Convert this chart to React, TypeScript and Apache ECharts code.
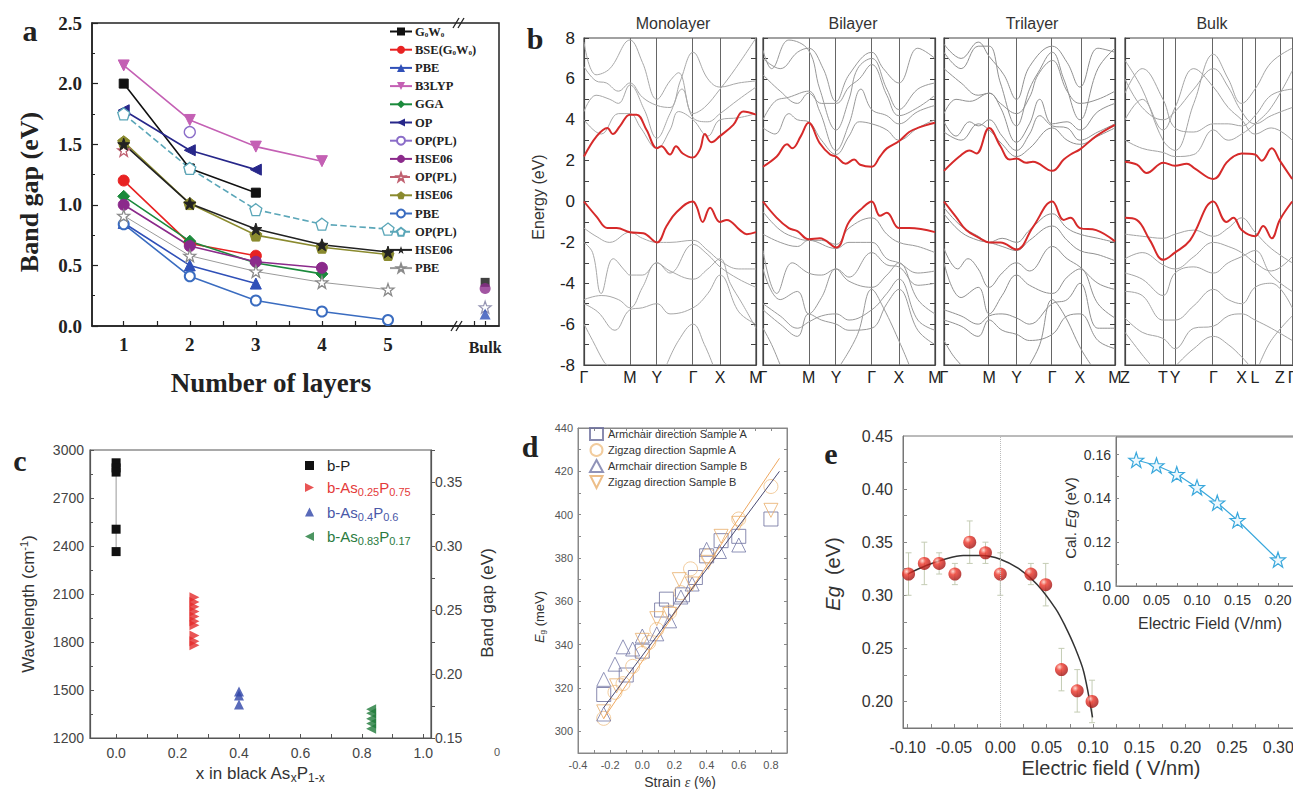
import React, { useEffect, useRef } from 'react';
import * as echarts from 'echarts';

const FS = '"Liberation Serif", "Times New Roman", serif';
const SS = '"Liberation Sans", Arial, Helvetica, sans-serif';
const STAR = 'path://M0,-10L2.35,-3.24L9.51,-3.09L3.8,1.24L5.88,8.09L0,4L-5.88,8.09L-3.8,1.24L-9.51,-3.09L-2.35,-3.24Z';
const PENT = 'path://M0,-10L9.51,-3.09L5.88,8.09L-5.88,8.09L-9.51,-3.09Z';
const TRI_R = 'path://M0,0L10,5L0,10Z';
const TRI_L = 'path://M10,0L0,5L10,10Z';
const TRI_D = 'path://M0,0L10,0L5,10Z';

// ---------- Panel a ----------
const aNames = ['G0W0', 'BSE(G0W0)', 'PBE', 'B3LYP', 'GGA', 'OP', 'OP(PL)', 'HSE06', 'OP(PL) ', 'HSE06 ', 'PBE ', 'OP(PL)  ', 'HSE06  ', 'PBE  '];
const aG0W0 = [[1, 2.0], [2, 1.3], [3, 1.1]];
const aBSE = [[1, 1.2], [2, 0.68], [3, 0.58]];
const aPBE1 = [[1, 0.85], [2, 0.5], [3, 0.35]];
const aB3LYP = [[1, 2.15], [2, 1.7], [3, 1.48], [4, 1.36]];
const aGGA = [[1, 1.07], [2, 0.7], [3, 0.52], [4, 0.43]];
const aOP = [[1, 1.78], [2, 1.45], [3, 1.29]];
const aOPPL1 = [[2, 1.6]];
const aHSE1 = [[1, 1.0], [2, 0.66], [3, 0.53], [4, 0.48]];
const aOPPL2 = [[1, 1.45]];
const aHSE2 = [[1, 1.52], [2, 1.01], [3, 0.75], [4, 0.65], [5, 0.59]];
const aPBE2 = [[1, 0.84], [2, 0.41], [3, 0.21], [4, 0.12], [5, 0.05]];
const aOPPL3 = [[1, 1.75], [2, 1.3], [3, 0.96], [4, 0.84], [5, 0.8]];
const aHSE3 = [[1, 1.5], [2, 1.01], [3, 0.8], [4, 0.67], [5, 0.61]];
const aPBE3 = [[1, 0.91], [2, 0.58], [3, 0.45], [4, 0.36], [5, 0.3]];
const aBulkX = 6.47;
const aBulkG0W0 = [[aBulkX, 0.36]];
const aBulkHSE = [[aBulkX, 0.31]];
const aBulkPBEstar = [[aBulkX, 0.155]];
const aBulkPBEtri = [[aBulkX, 0.1]];
const aTickVals = [1, 1.5, 2, 2.5, 3, 3.5, 4, 4.5, 5, 5.5, 6.3, 6.47];
const aLabelVals = [1, 2, 3, 4, 5, aBulkX];

// ---------- Panel b ----------
const bTitles = ['Monolayer', 'Bilayer', 'Trilayer', 'Bulk'];
const kPos = [
  [0, 0.267, 0.424, 0.634, 0.791, 1],
  [0, 0.265, 0.425, 0.632, 0.79, 1],
  [0, 0.264, 0.424, 0.633, 0.795, 1],
  [0, 0.221, 0.291, 0.514, 0.678, 0.756, 0.901, 0.972],
];
const kLab = [
  ['Γ', 'M', 'Y', 'Γ', 'X', 'M'],
  ['Γ', 'M', 'Y', 'Γ', 'X', 'M'],
  ['Γ', 'M', 'Y', 'Γ', 'X', 'M'],
  ['Z', 'T', 'Y', 'Γ', 'X', 'L', 'Z', 'Γ'],
];
const monoCB = [[0, 2.2], [0.074, 3.2], [0.136, 3.6], [0.167, 3.3], [0.21, 3.7], [0.267, 4.25], [0.306, 4.25], [0.364, 3.5], [0.424, 2.6], [0.45, 2.7], [0.5, 2.3], [0.535, 2.7], [0.574, 2.35], [0.632, 2.15], [0.674, 2.55], [0.703, 3.3], [0.74, 2.9], [0.79, 3.2], [0.868, 3.75], [0.926, 4.4], [1, 4.25]];
const monoVB = [[0, 0], [0.074, -0.75], [0.136, -1.3], [0.19, -1.3], [0.267, -1.5], [0.345, -1.55], [0.424, -2.0], [0.48, -1.2], [0.535, -0.55], [0.632, 0], [0.655, -0.25], [0.69, -1.0], [0.733, -0.3], [0.79, -1.0], [0.83, -0.9], [0.907, -1.4], [0.946, -1.6], [1, -1.5]];
const monoGray = [
  [[0, 7.8], [0.07, 6.2], [0.15, 6.5], [0.267, 7.9], [0.34, 6.8], [0.424, 5.0], [0.5, 5.9], [0.55, 6.3], [0.634, 4.3], [0.7, 4.6], [0.791, 5.5], [0.88, 6.5], [1, 8.0]],
  [[0, 6.6], [0.07, 5.9], [0.13, 5.8], [0.2, 5.4], [0.267, 5.8], [0.34, 5.1], [0.424, 4.7], [0.5, 4.6], [0.56, 5.9], [0.634, 7.3], [0.72, 6.0], [0.791, 5.6], [0.9, 5.8], [1, 5.9]],
  [[0, 4.4], [0.07, 5.2], [0.15, 5.0], [0.2, 4.8], [0.267, 5.7], [0.35, 4.5], [0.424, 3.1], [0.5, 4.3], [0.57, 5.5], [0.634, 4.1], [0.72, 3.9], [0.791, 4.3], [0.9, 5.0], [1, 5.6]],
  [[0, 4.0], [0.1, 3.3], [0.2, 4.3], [0.267, 4.3], [0.33, 3.6], [0.424, 2.6], [0.5, 3.5], [0.55, 4.4], [0.634, 4.0], [0.72, 3.2], [0.791, 4.0], [0.9, 4.1], [1, 4.3]],
  [[0, -1.3], [0.07, -1.7], [0.15, -2.0], [0.267, -1.5], [0.34, -1.8], [0.424, -2.0], [0.5, -2.0], [0.634, -1.9], [0.72, -2.4], [0.791, -2.9], [0.9, -3.3], [1, -3.3]],
  [[0, -2.0], [0.05, -2.5], [0.1, -4.5], [0.17, -2.8], [0.24, -3.4], [0.267, -3.6], [0.34, -3.6], [0.424, -3.0], [0.5, -3.5], [0.634, -2.1], [0.72, -2.6], [0.791, -3.2], [0.9, -3.8], [1, -4.2]],
  [[0, -4.8], [0.1, -4.6], [0.2, -4.8], [0.267, -5.2], [0.34, -4.2], [0.424, -3.0], [0.5, -3.4], [0.634, -3.8], [0.72, -3.3], [0.791, -2.8], [0.85, -4.0], [0.92, -5.0], [1, -6.2]],
  [[0, -5.0], [0.08, -5.4], [0.18, -6.3], [0.267, -5.3], [0.34, -5.2], [0.424, -5.0], [0.5, -5.5], [0.634, -5.2], [0.72, -4.5], [0.791, -3.6], [0.9, -5.4], [1, -6.0]],
  [[0, -6.0], [0.05, -6.8], [0.12, -7.9], [0.14, -8.0]],
  [[0.48, -8.0], [0.55, -6.8], [0.634, -6.0], [0.7, -7.0], [0.75, -8.0]],
];
const biCB = [[0, 1.7], [0.08, 2.2], [0.14, 2.8], [0.17, 2.6], [0.22, 3.2], [0.265, 3.85], [0.33, 2.85], [0.39, 2.3], [0.425, 2.2], [0.48, 1.85], [0.53, 2.05], [0.565, 1.8], [0.632, 1.7], [0.68, 2.2], [0.72, 2.6], [0.79, 2.95], [0.85, 3.4], [0.9, 3.6], [1, 3.85]];
const biVB = [[0, 0], [0.08, -0.8], [0.15, -1.3], [0.2, -1.45], [0.265, -1.85], [0.33, -1.8], [0.425, -2.25], [0.5, -1.0], [0.58, -0.3], [0.632, 0], [0.68, -0.7], [0.72, -0.55], [0.79, -1.3], [0.85, -1.3], [1, -1.5]];
const biGray = [
  [[0, 7.4], [0.05, 6.5], [0.15, 7.9], [0.265, 7.4], [0.33, 5.5], [0.425, 3.5], [0.5, 5.0], [0.55, 6.5], [0.632, 7.0], [0.72, 5.5], [0.79, 4.5], [0.9, 5.5], [1, 5.8]],
  [[0, 6.2], [0.1, 5.4], [0.2, 4.8], [0.265, 5.3], [0.34, 4.8], [0.425, 4.8], [0.5, 5.6], [0.56, 6.0], [0.632, 6.7], [0.72, 5.2], [0.79, 4.2], [0.9, 4.6], [1, 5.2]],
  [[0, 4.0], [0.07, 4.9], [0.15, 5.1], [0.265, 5.4], [0.33, 4.4], [0.425, 2.5], [0.5, 3.8], [0.57, 5.5], [0.632, 4.5], [0.72, 4.2], [0.79, 3.8], [0.9, 4.4], [1, 4.7]],
  [[0, 3.6], [0.07, 3.3], [0.15, 4.3], [0.2, 4.0], [0.265, 3.9], [0.34, 3.0], [0.425, 2.3], [0.5, 3.2], [0.56, 3.9], [0.632, 3.8], [0.72, 3.5], [0.79, 3.0], [0.9, 3.6], [1, 4.0]],
  [[0, 7.0], [0.1, 6.5], [0.2, 7.3], [0.265, 7.5], [0.35, 6.5], [0.425, 4.9], [0.5, 6.2], [0.632, 7.3], [0.7, 6.5], [0.79, 5.8], [0.9, 7.5], [1, 7.0]],
  [[0, -0.5], [0.1, -1.4], [0.2, -1.8], [0.265, -1.9], [0.34, -1.9], [0.425, -2.1], [0.5, -1.3], [0.632, -0.8], [0.72, -1.6], [0.79, -2.0], [0.9, -2.2], [1, -2.5]],
  [[0, -1.6], [0.1, -2.0], [0.2, -2.2], [0.265, -1.9], [0.425, -2.3], [0.5, -2.0], [0.632, -2.0], [0.72, -2.8], [0.79, -3.0], [0.9, -3.5], [1, -3.4]],
  [[0, -2.4], [0.08, -4.5], [0.17, -3.0], [0.265, -3.5], [0.34, -3.6], [0.425, -3.3], [0.5, -3.7], [0.632, -2.5], [0.72, -3.1], [0.79, -3.2], [0.9, -4.1], [1, -4.0]],
  [[0, -3.3], [0.1, -4.8], [0.2, -4.4], [0.265, -5.5], [0.34, -4.7], [0.425, -3.3], [0.5, -3.9], [0.632, -4.2], [0.72, -3.6], [0.79, -3.0], [0.9, -4.8], [1, -5.5]],
  [[0, -5.0], [0.1, -5.6], [0.2, -6.2], [0.265, -5.9], [0.34, -5.6], [0.425, -5.5], [0.5, -5.8], [0.632, -5.3], [0.72, -4.5], [0.79, -3.8], [0.9, -5.8], [1, -6.3]],
  [[0, -5.3], [0.1, -6.0], [0.2, -6.6], [0.265, -5.5], [0.34, -5.8], [0.425, -6.0], [0.5, -6.3], [0.632, -6.2], [0.72, -5.0], [0.79, -4.3], [0.9, -6.3], [1, -7.0]],
  [[0, -6.2], [0.05, -7.0], [0.1, -8.0]],
  [[0.45, -8.0], [0.55, -6.5], [0.632, -4.3], [0.7, -5.2], [0.8, -7.0], [0.85, -8.0]],
];
const triCB = [[0, 1.5], [0.09, 2.2], [0.15, 2.5], [0.19, 2.35], [0.264, 3.6], [0.33, 2.7], [0.385, 2.05], [0.424, 2.1], [0.48, 1.9], [0.52, 1.95], [0.633, 1.5], [0.7, 2.05], [0.74, 2.3], [0.795, 2.55], [0.89, 3.2], [1, 3.75]];
const triVB = [[0, 0], [0.07, -0.75], [0.13, -1.4], [0.21, -1.8], [0.264, -2.0], [0.33, -2.0], [0.424, -2.35], [0.52, -1.25], [0.633, 0], [0.7, -0.9], [0.74, -0.8], [0.795, -1.3], [0.89, -1.4], [1, -1.95]];
const triGray = [
  [[0, 7.3], [0.1, 6.5], [0.2, 7.6], [0.264, 7.6], [0.33, 5.8], [0.424, 3.7], [0.5, 5.5], [0.55, 6.3], [0.633, 7.3], [0.7, 6.0], [0.795, 4.0], [0.9, 6.5], [1, 7.5]],
  [[0, 6.5], [0.1, 5.8], [0.2, 5.2], [0.264, 5.3], [0.33, 4.8], [0.424, 4.3], [0.5, 5.1], [0.55, 6.2], [0.633, 6.9], [0.72, 5.4], [0.795, 4.8], [0.9, 5.0], [1, 5.4]],
  [[0, 4.3], [0.07, 5.0], [0.15, 4.9], [0.264, 5.3], [0.33, 4.6], [0.424, 2.9], [0.5, 3.8], [0.56, 5.0], [0.633, 3.8], [0.72, 3.9], [0.795, 3.5], [0.9, 4.4], [1, 4.8]],
  [[0, 3.9], [0.07, 3.2], [0.15, 3.9], [0.2, 3.7], [0.264, 4.0], [0.34, 3.2], [0.424, 2.5], [0.5, 3.3], [0.56, 4.2], [0.633, 3.7], [0.72, 3.6], [0.795, 3.0], [0.9, 3.4], [1, 3.8]],
  [[0, 7.7], [0.1, 7.0], [0.2, 7.8], [0.264, 7.1], [0.35, 6.2], [0.424, 5.0], [0.5, 6.6], [0.633, 7.6], [0.72, 6.8], [0.795, 5.6], [0.9, 7.5], [1, 7.3]],
  [[0, 3.4], [0.1, 3.0], [0.2, 3.8], [0.264, 3.5], [0.34, 2.8], [0.424, 2.2], [0.5, 2.6], [0.633, 3.6], [0.72, 3.0], [0.795, 2.8], [0.9, 3.2], [1, 3.6]],
  [[0, -0.3], [0.1, -1.2], [0.2, -1.7], [0.264, -2.0], [0.34, -1.8], [0.424, -2.0], [0.5, -1.4], [0.633, -0.6], [0.72, -1.3], [0.795, -1.6], [0.9, -1.8], [1, -2.0]],
  [[0, -0.6], [0.1, -1.5], [0.2, -1.9], [0.264, -2.0], [0.34, -2.2], [0.424, -2.4], [0.5, -1.9], [0.633, -1.2], [0.72, -1.9], [0.795, -2.4], [0.9, -2.6], [1, -2.9]],
  [[0, -2.3], [0.08, -3.3], [0.14, -2.8], [0.2, -3.3], [0.264, -4.2], [0.34, -3.5], [0.424, -3.0], [0.5, -3.4], [0.633, -2.2], [0.72, -2.8], [0.795, -3.2], [0.9, -4.0], [1, -4.3]],
  [[0, -3.0], [0.1, -4.7], [0.2, -4.2], [0.264, -5.5], [0.34, -4.6], [0.424, -3.6], [0.5, -4.1], [0.633, -4.5], [0.72, -3.7], [0.795, -3.3], [0.9, -5.0], [1, -5.7]],
  [[0, -5.3], [0.1, -5.6], [0.2, -6.0], [0.264, -5.6], [0.34, -5.5], [0.424, -5.7], [0.5, -6.0], [0.633, -5.0], [0.72, -4.8], [0.795, -4.0], [0.9, -6.2], [1, -6.2]],
  [[0, -5.8], [0.1, -6.1], [0.2, -6.6], [0.264, -5.8], [0.34, -6.3], [0.424, -6.5], [0.5, -6.8], [0.633, -6.5], [0.72, -5.6], [0.795, -5.5], [0.9, -6.8], [1, -7.2]],
  [[0, -6.8], [0.05, -7.5], [0.1, -8.0]],
  [[0.5, -8.0], [0.56, -7.0], [0.633, -4.8], [0.7, -5.5], [0.8, -7.2], [0.86, -8.0]],
];
const bulkCB = [[0, 1.95], [0.07, 1.8], [0.126, 1.4], [0.223, 1.9], [0.29, 1.75], [0.36, 1.85], [0.4, 1.65], [0.514, 1.1], [0.59, 1.9], [0.63, 2.2], [0.678, 2.35], [0.756, 2.3], [0.795, 2.0], [0.853, 2.6], [0.9, 2.0], [0.972, 1.1]];
const bulkVB = [[0, -0.8], [0.068, -0.9], [0.145, -1.9], [0.223, -2.85], [0.29, -2.5], [0.378, -1.9], [0.514, 0], [0.59, -1.0], [0.63, -0.8], [0.678, -1.4], [0.756, -1.7], [0.804, -1.2], [0.853, -1.8], [0.9, -0.9], [0.972, 0]];
const bulkGray = [
  [[0, 6.9], [0.1, 5.5], [0.221, 3.0], [0.291, 2.5], [0.4, 4.8], [0.514, 7.2], [0.6, 6.0], [0.678, 4.8], [0.756, 5.5], [0.85, 6.8], [0.972, 7.5]],
  [[0, 6.0], [0.1, 4.6], [0.221, 4.0], [0.291, 4.4], [0.4, 5.5], [0.514, 6.5], [0.6, 5.6], [0.678, 4.4], [0.756, 3.8], [0.85, 4.2], [0.972, 4.6]],
  [[0, 5.3], [0.1, 6.5], [0.221, 5.0], [0.291, 3.6], [0.4, 3.4], [0.514, 3.8], [0.6, 3.8], [0.678, 3.7], [0.756, 4.2], [0.85, 5.2], [0.972, 5.5]],
  [[0, 4.0], [0.1, 5.0], [0.221, 3.5], [0.291, 4.6], [0.4, 6.5], [0.514, 5.6], [0.6, 4.6], [0.678, 4.0], [0.756, 3.3], [0.85, 3.6], [0.972, 3.0]],
  [[0, 3.0], [0.1, 2.6], [0.221, 2.4], [0.291, 2.2], [0.4, 2.3], [0.514, 3.5], [0.6, 3.0], [0.678, 3.3], [0.756, 3.8], [0.85, 4.6], [0.972, 6.4]],
  [[0, -1.6], [0.1, -1.7], [0.221, -1.8], [0.291, -1.6], [0.4, -1.4], [0.514, -1.7], [0.6, -1.3], [0.678, -0.8], [0.756, -1.5], [0.85, -2.3], [0.972, -3.0]],
  [[0, -2.8], [0.1, -2.5], [0.221, -3.1], [0.291, -3.3], [0.4, -2.7], [0.514, -2.0], [0.6, -2.2], [0.678, -2.5], [0.756, -3.0], [0.85, -3.4], [0.972, -2.7]],
  [[0, -3.5], [0.1, -3.8], [0.221, -4.6], [0.291, -3.5], [0.4, -3.2], [0.514, -3.5], [0.6, -3.0], [0.678, -2.7], [0.756, -2.4], [0.85, -3.6], [0.972, -4.4]],
  [[0, -4.4], [0.1, -4.6], [0.221, -5.8], [0.291, -5.8], [0.4, -5.1], [0.514, -4.3], [0.6, -4.8], [0.678, -5.0], [0.756, -4.2], [0.85, -4.0], [0.972, -5.2]],
  [[0, -5.7], [0.1, -6.4], [0.221, -6.7], [0.291, -7.2], [0.4, -6.2], [0.514, -6.1], [0.6, -5.6], [0.678, -5.5], [0.756, -5.8], [0.85, -6.2], [0.972, -6.8]],
  [[0, -6.4], [0.1, -7.5], [0.15, -8.0]],
  [[0.3, -8.0], [0.4, -7.2], [0.514, -6.6], [0.6, -7.0], [0.678, -7.6], [0.72, -8.0]],
  [[0.78, -8.0], [0.85, -6.8], [0.972, -5.6]],
];

// ---------- Panel c ----------
const cBP = [[0, 2920], [0, 2888], [0, 2862], [0, 2505], [0, 2365]];
const cAs25 = [[0.255, 2080], [0.255, 2050], [0.255, 2020], [0.255, 1990], [0.255, 1960], [0.255, 1930], [0.255, 1905], [0.255, 1840], [0.255, 1805], [0.255, 1780]];
const cAs40 = [[0.4, 1490], [0.4, 1465], [0.4, 1410]];
const cAs83 = [[0.83, 1380], [0.83, 1355], [0.83, 1320], [0.83, 1290], [0.83, 1258]];
const cXLabels = [0, 0.2, 0.4, 0.6, 0.8, 1.0];
const cXTicks = [0, 0.1, 0.2, 0.3, 0.4, 0.5, 0.6, 0.7, 0.8, 0.9, 1.0];
const cRLabels = [0.15, 0.2, 0.25, 0.3, 0.35];
const cRTicks = [0.15, 0.175, 0.2, 0.225, 0.25, 0.275, 0.3, 0.325, 0.35, 0.375];

// ---------- Panel d ----------
const dArmA = [[-0.24, 317], [0.15, 361], [0.25, 363], [0.33, 371], [0.4, 381], [0.49, 388], [0.6, 390], [0.8, 398], [0.12, 356], [-0.1, 326], [0.0, 337]];
const dZigA = [[-0.24, 306], [-0.17, 318], [-0.12, 322], [-0.06, 330], [0.0, 336], [0.04, 341], [0.09, 347], [0.17, 355], [0.24, 364], [0.3, 375], [0.41, 381], [0.6, 398], [0.8, 413]];
const dArmB = [[-0.24, 324], [-0.17, 331], [-0.12, 339], [-0.06, 338], [0.0, 344], [0.09, 345], [0.17, 351], [0.24, 362], [0.31, 368], [0.4, 384], [0.48, 383], [0.6, 386], [-0.24, 308]];
const dZigB = [[-0.24, 309], [-0.16, 321], [0.0, 342], [0.09, 352], [0.17, 354], [0.23, 370], [0.31, 368], [0.41, 378], [0.49, 390], [0.6, 396], [0.8, 402]];
const dFitDark = [[-0.24, 311], [0.853, 420]];
const dFitOrange = [[-0.24, 306], [0.853, 426]];
const dXLabels = [-0.4, -0.2, 0.0, 0.2, 0.4, 0.6, 0.8];
const dXTicks = [-0.3, -0.2, -0.1, 0, 0.1, 0.2, 0.3, 0.4, 0.5, 0.6, 0.7, 0.8];
const dYLabels = [300, 320, 340, 360, 380, 400, 420, 440];
const dYTicks = [300, 310, 320, 330, 340, 350, 360, 370, 380, 390, 400, 410, 420, 430];

// ---------- Panel e ----------
const eField = [-0.099, -0.082, -0.066, -0.049, -0.033, -0.016, 0, 0.033, 0.049, 0.066, 0.083, 0.099];
const eGap = [0.32, 0.33, 0.33, 0.32, 0.35, 0.34, 0.32, 0.32, 0.31, 0.23, 0.21, 0.2];
const eErr = [0.02, 0.02, 0.01, 0.01, 0.02, 0.01, 0.02, 0.01, 0.02, 0.02, 0.02, 0.02];
const eFit = [[-0.1, 0.32], [-0.08, 0.328], [-0.06, 0.334], [-0.04, 0.3375], [-0.02, 0.3375], [0, 0.334], [0.02, 0.325], [0.04, 0.31], [0.06, 0.287], [0.07, 0.271], [0.08, 0.252], [0.09, 0.228], [0.0995, 0.185]];
const eXLabels = [-0.1, -0.05, 0, 0.05, 0.1, 0.15, 0.2, 0.25, 0.3];
const eXTicks = [-0.1, -0.075, -0.05, -0.025, 0, 0.025, 0.05, 0.075, 0.1, 0.125, 0.15, 0.175, 0.2, 0.225, 0.25, 0.275, 0.3];
const eYLabels = [0.2, 0.25, 0.3, 0.35, 0.4, 0.45];
const eYTicks = [0.2, 0.225, 0.25, 0.275, 0.3, 0.325, 0.35, 0.375, 0.4, 0.425];
const insField = [0.025, 0.05, 0.075, 0.1, 0.125, 0.15, 0.2];
const insGap = [0.1575, 0.155, 0.151, 0.145, 0.138, 0.13, 0.112];
const insXLabels = [0, 0.05, 0.1, 0.15, 0.2];
const insXTicks = [0, 0.025, 0.05, 0.075, 0.1, 0.125, 0.15, 0.175, 0.2];
const insYLabels = [0.1, 0.12, 0.14, 0.16];
const insYTicks = [0.1, 0.11, 0.12, 0.13, 0.14, 0.15, 0.16];

function buildOption() {
  const noSplit = { show: false };
  const grids: any[] = [
    { left: 92, top: 23, width: 407, height: 303, borderColor: '#222', borderWidth: 1.5 },
    { left: 584, top: 38, width: 172, height: 327, borderColor: '#444', borderWidth: 1.2 },
    { left: 763, top: 38, width: 172, height: 327, borderColor: '#444', borderWidth: 1.2 },
    { left: 944, top: 38, width: 171, height: 327, borderColor: '#444', borderWidth: 1.2 },
    { left: 1125, top: 38, width: 172, height: 327, borderColor: '#444', borderWidth: 1.2 },
    { left: 90, top: 450, width: 341, height: 288, borderColor: '#555', borderWidth: 1.2 },
    { left: 578, top: 428, width: 209, height: 325, borderColor: '#888', borderWidth: 1 },
    { left: 903, top: 436, width: 392, height: 292, borderColor: '#777', borderWidth: 1 },
    { left: 1116, top: 437, width: 180, height: 149, borderColor: '#777', borderWidth: 1, backgroundColor: '#fff' },
  ].map((g) => ({ show: true, containLabel: false, outerBoundsMode: 'none', ...g }));

  const xAxis: any[] = [];
  const yAxis: any[] = [];

  // a
  xAxis.push({
    gridIndex: 0, type: 'value', min: 0.52, max: 6.68, splitLine: noSplit,
    axisLine: { show: true, lineStyle: { color: '#222', width: 1.5 } },
    axisTick: { show: true, inside: true, length: 5, customValues: aTickVals, lineStyle: { color: '#222', width: 1.2 } },
    axisLabel: {
      customValues: aLabelVals, margin: 9, color: '#222', fontFamily: FS, fontWeight: 'bold', fontSize: 19,
      formatter: (v: number) => (v > 6 ? '{bk|Bulk}' : String(Math.round(v))),
      rich: { bk: { fontFamily: FS, fontWeight: 'bold', fontSize: 16, color: '#222', padding: [4, 0, 0, 0] } },
    },
  });
  yAxis.push({
    gridIndex: 0, type: 'value', min: 0, max: 2.5, interval: 0.5, splitLine: noSplit,
    axisLine: { show: true, lineStyle: { color: '#222', width: 1.5 } },
    axisTick: { show: true, inside: true, length: 6, lineStyle: { color: '#222', width: 1.2 } },
    minorTick: { show: true, splitNumber: 2, length: 3, lineStyle: { color: '#222' } },
    axisLabel: { margin: 10, color: '#222', fontFamily: FS, fontWeight: 'bold', fontSize: 19, formatter: (v: number) => v.toFixed(1) },
  });

  // b
  for (let p = 0; p < 4; p++) {
    xAxis.push({
      gridIndex: p + 1, type: 'value', min: 0, max: 1, splitLine: noSplit,
      axisLine: { show: true, lineStyle: { color: '#444', width: 1.2 } },
      axisTick: { show: false },
      axisLabel: {
        customValues: kPos[p], margin: 4, color: '#222', fontFamily: SS, fontSize: 16,
        formatter: (v: number) => { const i = kPos[p].findIndex((k) => Math.abs(k - v) < 1e-6); return i >= 0 ? kLab[p][i] : ''; },
      },
    });
  }
  for (let p = 0; p < 4; p++) {
    yAxis.push({
      gridIndex: p + 1, type: 'value', min: -8, max: 8, interval: 2, position: 'left', splitLine: noSplit,
      axisLine: { show: true, lineStyle: { color: '#444', width: 1.2 } },
      axisTick: { show: true, inside: true, length: 5, lineStyle: { color: '#444' } },
      minorTick: { show: true, splitNumber: 2, length: 5, lineStyle: { color: '#444' } },
      axisLabel: { show: p === 0, margin: 9, color: '#222', fontFamily: SS, fontSize: 17, formatter: (v: number) => String(v) },
    });
  }
  for (let p = 0; p < 4; p++) {
    yAxis.push({
      gridIndex: p + 1, type: 'value', min: -8, max: 8, interval: 2, position: 'right', splitLine: noSplit,
      axisLine: { show: true, lineStyle: { color: '#444', width: 1.2 } },
      axisTick: { show: true, inside: true, length: 5, lineStyle: { color: '#444' } },
      minorTick: { show: true, splitNumber: 2, length: 5, lineStyle: { color: '#444' } },
      axisLabel: { show: false },
    });
  }

  // c  (x5, y9, y10)
  xAxis.push({
    gridIndex: 5, type: 'value', min: -0.085, max: 1.025, splitLine: noSplit,
    axisLine: { show: true, lineStyle: { color: '#555', width: 1.2 } },
    axisTick: { show: true, inside: true, length: 4, customValues: cXTicks, lineStyle: { color: '#555' } },
    axisLabel: { customValues: cXLabels, margin: 8, color: '#444', fontFamily: SS, fontSize: 14, formatter: (v: number) => v.toFixed(1) },
  });
  yAxis.push({
    gridIndex: 5, type: 'value', min: 1200, max: 3000, interval: 300, position: 'left', splitLine: noSplit,
    axisLine: { show: true, lineStyle: { color: '#555', width: 1.2 } },
    axisTick: { show: true, inside: true, length: 4, lineStyle: { color: '#555' } },
    minorTick: { show: true, splitNumber: 2, length: 3, lineStyle: { color: '#555' } },
    axisLabel: { margin: 6, color: '#444', fontFamily: SS, fontSize: 14, formatter: (v: number) => String(v) },
  });
  yAxis.push({
    gridIndex: 5, type: 'value', min: 0.15, max: 0.375, position: 'right', splitLine: noSplit,
    axisLine: { show: true, lineStyle: { color: '#555', width: 1.2 } },
    axisTick: { show: true, inside: false, length: 4, customValues: cRTicks, lineStyle: { color: '#555' } },
    axisLabel: { customValues: cRLabels, margin: 4, color: '#444', fontFamily: SS, fontSize: 14, formatter: (v: number) => v.toFixed(2) },
  });

  // d (x6 bottom, x7 top, y11 left, y12 right)
  xAxis.push({
    gridIndex: 6, type: 'value', min: -0.4, max: 0.9, position: 'bottom', splitLine: noSplit,
    axisLine: { show: true, lineStyle: { color: '#888' } },
    axisTick: { show: true, inside: true, length: 3, customValues: dXTicks, lineStyle: { color: '#888' } },
    axisLabel: { customValues: dXLabels, margin: 6, color: '#555', fontFamily: SS, fontSize: 11, formatter: (v: number) => v.toFixed(1) },
  });
  xAxis.push({
    gridIndex: 6, type: 'value', min: -0.4, max: 0.9, position: 'top', splitLine: noSplit,
    axisLine: { show: true, lineStyle: { color: '#888' } },
    axisTick: { show: true, inside: true, length: 3, customValues: dXTicks, lineStyle: { color: '#888' } },
    axisLabel: { show: false },
  });
  yAxis.push({
    gridIndex: 6, type: 'value', min: 290, max: 440, position: 'left', splitLine: noSplit,
    axisLine: { show: true, lineStyle: { color: '#888' } },
    axisTick: { show: true, inside: true, length: 3, customValues: dYTicks, lineStyle: { color: '#888' } },
    axisLabel: { customValues: dYLabels, margin: 5, color: '#555', fontFamily: SS, fontSize: 11, formatter: (v: number) => String(v) },
  });
  yAxis.push({
    gridIndex: 6, type: 'value', min: 290, max: 440, position: 'right', splitLine: noSplit,
    axisLine: { show: true, lineStyle: { color: '#888' } },
    axisTick: { show: true, inside: true, length: 3, customValues: dYTicks, lineStyle: { color: '#888' } },
    axisLabel: { show: false },
  });

  // e main (x8, y13), inset (x9, y14)
  xAxis.push({
    gridIndex: 7, type: 'value', min: -0.105, max: 0.318, splitLine: noSplit,
    axisLine: { show: true, lineStyle: { color: '#777' } },
    axisTick: { show: true, inside: true, length: 4, customValues: eXTicks, lineStyle: { color: '#888' } },
    axisLabel: { customValues: eXLabels, margin: 11, color: '#333', fontFamily: SS, fontSize: 16, formatter: (v: number) => v.toFixed(2) },
  });
  xAxis.push({
    gridIndex: 8, type: 'value', min: 0, max: 0.2222, splitLine: noSplit,
    axisLine: { show: true, lineStyle: { color: '#777' } },
    axisTick: { show: true, inside: true, length: 3, customValues: insXTicks, lineStyle: { color: '#888' } },
    axisLabel: { customValues: insXLabels, margin: 7, color: '#333', fontFamily: SS, fontSize: 14, formatter: (v: number) => v.toFixed(2) },
  });
  yAxis.push({
    gridIndex: 7, type: 'value', min: 0.175, max: 0.45, splitLine: noSplit,
    axisLine: { show: true, lineStyle: { color: '#777' } },
    axisTick: { show: true, inside: true, length: 4, customValues: eYTicks, lineStyle: { color: '#888' } },
    axisLabel: { customValues: eYLabels, margin: 10, color: '#333', fontFamily: SS, fontSize: 16, formatter: (v: number) => v.toFixed(2) },
  });
  yAxis.push({
    gridIndex: 8, type: 'value', min: 0.1, max: 0.168, splitLine: noSplit,
    axisLine: { show: true, lineStyle: { color: '#777' } },
    axisTick: { show: true, inside: true, length: 3, customValues: insYTicks, lineStyle: { color: '#888' } },
    axisLabel: { customValues: insYLabels, margin: 5, color: '#333', fontFamily: SS, fontSize: 14, formatter: (v: number) => v.toFixed(2) },
  });

  // axis lines stay on the grid edges, never at zero
  xAxis.forEach((a) => { a.axisLine = { ...a.axisLine, onZero: false }; });
  yAxis.forEach((a) => { a.axisLine = { ...a.axisLine, onZero: false }; });

  const series: any[] = [];
  // ---- a series
  const aLine = (name: string, data: any, color: string, symbol: string, size: number, extra: any = {}) => ({
    type: 'line', name, data, xAxisIndex: 0, yAxisIndex: 0, symbol, symbolSize: size, showAllSymbol: true,
    lineStyle: { color, width: 1.6, type: extra.dash ? 'dashed' : 'solid' },
    itemStyle: extra.empty ? { color: '#fff', borderColor: color, borderWidth: 1.3 } : { color, borderColor: color },
    z: 3,
  });
  series.push(aLine('G0W0', aG0W0, '#111', 'rect', 9));
  series.push(aLine('BSE(G0W0)', aBSE, '#e82222', 'circle', 11));
  series.push(aLine('PBE', aPBE1, '#3050b8', 'triangle', 11));
  series.push(aLine('B3LYP', aB3LYP, '#c460b4', TRI_D, 11));
  series.push(aLine('GGA', aGGA, '#1b8a3c', 'diamond', 12));
  series.push(aLine('OP', aOP, '#27278a', TRI_L, 11));
  series.push(aLine('OP(PL)', aOPPL1, '#8a6cc8', 'circle', 11, { empty: true }));
  series.push(aLine('HSE06', aHSE1, '#8b2a8b', 'circle', 11));
  series.push(aLine('OP(PL) ', aOPPL2, '#c06070', STAR, 12, { empty: true, dash: true }));
  series.push(aLine('HSE06 ', aHSE2, '#8a8a2e', PENT, 12));
  series.push(aLine('PBE ', aPBE2, '#3a6cc0', 'emptyCircle', 10));
  series.push(aLine('OP(PL)  ', aOPPL3, '#5aa6b8', PENT, 12, { empty: true, dash: true }));
  series.push(aLine('HSE06  ', aHSE3, '#222', STAR, 12));
  series.push({ ...aLine('PBE  ', aPBE3, '#8a8a8a', STAR, 12, { empty: true }), lineStyle: { color: '#9a9a9a', width: 1 } });
  const aBulkPt = (data: any, color: string, symbol: string, size: number, empty = false) => ({
    type: 'scatter', data, xAxisIndex: 0, yAxisIndex: 0, symbol, symbolSize: size, z: 3,
    itemStyle: empty ? { color: '#fff', borderColor: color, borderWidth: 1.2 } : { color },
  });
  series.push(aBulkPt(aBulkG0W0, '#111', 'rect', 9));
  series.push(aBulkPt(aBulkHSE, '#8b2a8b', 'circle', 11));
  series.push(aBulkPt(aBulkPBEstar, '#7a7aa0', STAR, 12, true));
  series.push(aBulkPt(aBulkPBEtri, '#3050b8', 'triangle', 11));

  // ---- b series
  const bSets = [
    { gray: monoGray, cb: monoCB, vb: monoVB, gc: '#a8a8a8' },
    { gray: biGray, cb: biCB, vb: biVB, gc: '#9a9a9a' },
    { gray: triGray, cb: triCB, vb: triVB, gc: '#909090' },
    { gray: bulkGray, cb: bulkCB, vb: bulkVB, gc: '#a4a4a4' },
  ];
  bSets.forEach((s, p) => {
    s.gray.forEach((d) => series.push({
      type: 'line', data: d, xAxisIndex: p + 1, yAxisIndex: p + 1, symbol: 'none', smooth: 0.4, silent: true,
      lineStyle: { color: s.gc, width: 1 }, z: 2,
    }));
    series.push({
      type: 'line', data: s.cb, xAxisIndex: p + 1, yAxisIndex: p + 1, symbol: 'none', smooth: 0.4, silent: true,
      lineStyle: { color: '#d62a2a', width: 2 }, z: 4,
      markLine: {
        silent: true, symbol: ['none', 'none'], label: { show: false }, z: 1,
        lineStyle: { color: '#666', width: 1, type: 'solid' },
        data: kPos[p].filter((k) => k > 0 && k < 1).map((k) => ({ xAxis: k })),
      },
    });
    series.push({
      type: 'line', data: s.vb, xAxisIndex: p + 1, yAxisIndex: p + 1, symbol: 'none', smooth: 0.4, silent: true,
      lineStyle: { color: '#d62a2a', width: 2 }, z: 4,
    });
  });

  // ---- c series
  series.push({
    type: 'line', name: 'b-P', data: cBP, xAxisIndex: 5, yAxisIndex: 9, symbol: 'rect', symbolSize: 9,
    lineStyle: { color: '#999', width: 1 }, itemStyle: { color: '#111' }, z: 3,
  });
  series.push({ type: 'scatter', name: 'b-As0.25P0.75', data: cAs25, xAxisIndex: 5, yAxisIndex: 9, symbol: TRI_R, symbolSize: 10, itemStyle: { color: '#e42a2a' } });
  series.push({ type: 'scatter', name: 'b-As0.4P0.6', data: cAs40, xAxisIndex: 5, yAxisIndex: 9, symbol: 'triangle', symbolSize: 10, itemStyle: { color: '#2f45a8' } });
  series.push({ type: 'scatter', name: 'b-As0.83P0.17', data: cAs83, xAxisIndex: 5, yAxisIndex: 9, symbol: TRI_L, symbolSize: 10, itemStyle: { color: '#1f7a3a' } });

  // ---- d series
  const dScatter = (name: string, data: any, color: string, symbol: string) => ({
    type: 'scatter', name, data, xAxisIndex: 6, yAxisIndex: 11, symbol, symbolSize: 14,
    itemStyle: { color: 'rgba(255,255,255,0)', borderColor: color, borderWidth: 1 }, z: 3,
  });
  series.push(dScatter('Armchair direction Sample A', dArmA, '#6c6e9c', 'rect'));
  series.push(dScatter('Zigzag direction Sapmle A', dZigA, '#efbf84', 'circle'));
  series.push(dScatter('Armchair direction Sample B', dArmB, '#7478a6', 'triangle'));
  series.push(dScatter('Zigzag direction Sample B', dZigB, '#e8ae6a', TRI_D));
  series.push({ type: 'line', data: dFitOrange, xAxisIndex: 6, yAxisIndex: 11, symbol: 'none', lineStyle: { color: '#eea860', width: 1 }, z: 4 });
  series.push({ type: 'line', data: dFitDark, xAxisIndex: 6, yAxisIndex: 11, symbol: 'none', lineStyle: { color: '#4a4a72', width: 1 }, z: 4 });

  // ---- e series
  const eData = eField.map((x, i) => [x, eGap[i]]);
  const eBars = eField.map((x, i) => [x, eGap[i] - eErr[i], eGap[i] + eErr[i]]);
  series.push({
    type: 'custom', xAxisIndex: 8, yAxisIndex: 13, data: eBars, silent: true, z: 2,
    encode: { x: 0, y: [1, 2] },
    renderItem: (params: any, api: any) => {
      const x = api.value(0);
      const p1 = api.coord([x, api.value(1)]);
      const p2 = api.coord([x, api.value(2)]);
      const st = { stroke: '#c4ccb4', lineWidth: 1 };
      return {
        type: 'group', children: [
          { type: 'line', shape: { x1: p1[0], y1: p1[1], x2: p2[0], y2: p2[1] }, style: st },
          { type: 'line', shape: { x1: p1[0] - 3, y1: p1[1], x2: p1[0] + 3, y2: p1[1] }, style: st },
          { type: 'line', shape: { x1: p2[0] - 3, y1: p2[1], x2: p2[0] + 3, y2: p2[1] }, style: st },
        ],
      };
    },
  });
  series.push({
    type: 'line', data: eFit, xAxisIndex: 8, yAxisIndex: 13, symbol: 'none', smooth: 0.3,
    lineStyle: { color: '#333', width: 1.5 }, z: 3,
    markLine: {
      silent: true, symbol: ['none', 'none'], label: { show: false },
      lineStyle: { color: '#bbb', width: 1, type: 'dotted' }, data: [{ xAxis: 0 }],
    },
  });
  series.push({
    type: 'scatter', data: eData, xAxisIndex: 8, yAxisIndex: 13, symbol: 'circle', symbolSize: 13, z: 4,
    itemStyle: {
      color: new echarts.graphic.RadialGradient(0.35, 0.3, 0.75, [
        { offset: 0, color: '#ffd2c8' }, { offset: 0.35, color: '#ee3428' }, { offset: 1, color: '#9a0f0f' },
      ]),
    },
  });
  series.push({
    type: 'line', data: insField.map((x, i) => [x, insGap[i]]), xAxisIndex: 9, yAxisIndex: 14, symbol: STAR, symbolSize: 15,
    lineStyle: { color: '#3aa8dc', width: 1.2 }, itemStyle: { color: '#eef8fd', borderColor: '#3aa8dc', borderWidth: 1.2 }, z: 5,
  });

  // ---- legends
  const legends: any[] = [
    {
      left: 389, top: 25, orient: 'vertical', itemGap: 5.2, itemWidth: 22, itemHeight: 10, selectedMode: false,
      data: aNames, padding: 0,
      formatter: (n: string) => {
        if (n === 'G0W0') return '{m|G}{s|0}{m|W}{s|0}';
        if (n === 'BSE(G0W0)') return '{m|BSE(G}{s|0}{m|W}{s|0}{m|)}';
        return n.trim();
      },
      textStyle: {
        fontFamily: FS, fontWeight: 'bold', fontSize: 12.5, color: '#222', padding: [0, 0, 0, -2],
        rich: {
          m: { fontFamily: FS, fontWeight: 'bold', fontSize: 12.5, color: '#222' },
          s: { fontFamily: FS, fontWeight: 'bold', fontSize: 7, color: '#222', verticalAlign: 'bottom', padding: [6, 0, 0, 0] },
        },
      },
    },
    {
      left: 305, top: 458, orient: 'vertical', itemGap: 7, itemWidth: 9, itemHeight: 9, selectedMode: false, padding: 0,
      data: [
        { name: 'b-P', icon: 'rect', textStyle: { color: '#222' } },
        { name: 'b-As0.25P0.75', textStyle: { color: '#e43a3a' } },
        { name: 'b-As0.4P0.6', textStyle: { color: '#4a58a8' } },
        { name: 'b-As0.83P0.17', textStyle: { color: '#2a7a3e' } },
      ],
      formatter: (n: string) => {
        if (n === 'b-P') return '{n|b-P}';
        const m = n.match(/b-As([\d.]+)P([\d.]+)/);
        return m ? `{n|b-As}{s|${m[1]}}{n|P}{s|${m[2]}}` : n;
      },
      textStyle: {
        fontFamily: SS, fontSize: 15, padding: [0, 0, 0, 8],
        rich: {
          n: { fontFamily: SS, fontSize: 15 },
          s: { fontFamily: SS, fontSize: 11, verticalAlign: 'bottom', padding: [9, 0, 0, 0] },
        },
      },
    },
    {
      left: 589, top: 427, orient: 'vertical', itemGap: 2, itemWidth: 13, itemHeight: 12, selectedMode: false, padding: 0,
      data: ['Armchair direction Sample A', 'Zigzag direction Sapmle A', 'Armchair direction Sample B', 'Zigzag direction Sample B'],
      textStyle: { fontFamily: SS, fontSize: 11, color: '#333' },
    },
  ];

  // ---- graphic texts
  const T = (text: string, x: number, y: number, size: number, opts: any = {}) => ({
    type: 'text', x, y, rotation: opts.rot || 0, z: 10, silent: true,
    style: {
      text, fontSize: size, fontFamily: opts.ff || SS, fontWeight: opts.fw || 'normal', fill: opts.color || '#222',
      align: 'center', verticalAlign: 'middle', rich: opts.rich,
    },
  });
  const R = Math.PI / 2;
  const graphic: any[] = [
    T('a', 30, 30, 30, { ff: FS, fw: 'bold' }),
    T('b', 535, 38, 30, { ff: FS, fw: 'bold' }),
    T('c', 20, 460, 30, { ff: FS, fw: 'bold' }),
    T('d', 530, 446, 30, { ff: FS, fw: 'bold' }),
    T('e', 831, 453, 30, { ff: FS, fw: 'bold' }),
    T('Band gap (eV)', 29, 192, 26, { ff: FS, fw: 'bold', rot: R }),
    T('Number of layers', 271, 383, 27, { ff: FS, fw: 'bold' }),
    T('Energy (eV)', 538, 197, 16, { rot: R, color: '#333' }),
    ...bTitles.map((t, i) => T(t, [673, 853, 1032, 1212][i], 23, 16, { color: '#333' })),
    T('{n|Wavelength (cm}{p|-1}{n|)}', 28, 604, 17, { rot: R, color: '#333', rich: { n: { fontSize: 17, fontFamily: SS, fill: '#333' }, p: { fontSize: 11, fontFamily: SS, verticalAlign: 'top', padding: [0, 0, 8, 0] } } }),
    T('Band gap (eV)', 487, 603, 17, { rot: R, color: '#333' }),
    T('{n|x in black As}{s|x}{n|P}{s|1-x}', 260, 773, 17, { color: '#333', rich: { n: { fontSize: 17, fontFamily: SS }, s: { fontSize: 12, fontFamily: SS, verticalAlign: 'bottom', padding: [10, 0, 0, 0] } } }),
    T('{i|E}{s|g}{n| (meV)}', 539, 617, 13, { rot: R, color: '#333', rich: { i: { fontSize: 13, fontStyle: 'italic', fontFamily: SS }, s: { fontSize: 8, fontFamily: SS, verticalAlign: 'bottom', padding: [6, 0, 0, 0] }, n: { fontSize: 13, fontFamily: SS } } }),
    T('{n|Strain }{i|ε}{n| (%)}', 680, 782, 14, { color: '#333', rich: { n: { fontSize: 14, fontFamily: SS }, i: { fontSize: 14, fontStyle: 'italic', fontFamily: FS } } }),
    T('0', 497, 752, 11, { color: '#555' }),
    T('{i|Eg}{n|  (eV)}', 833, 574, 20, { rot: R, color: '#333', rich: { i: { fontSize: 20, fontStyle: 'italic', fontFamily: SS }, n: { fontSize: 20, fontFamily: SS } } }),
    T('Electric field ( V/nm)', 1111, 768, 20, { color: '#333' }),
    T('{n|Cal. }{i|Eg}{n| (eV)}', 1070, 518, 15, { rot: R, color: '#333', rich: { i: { fontSize: 15, fontStyle: 'italic', fontFamily: SS }, n: { fontSize: 15, fontFamily: SS } } }),
    T('Electric Field (V/nm)', 1210, 623, 16, { color: '#333' }),
    // axis break marks in panel a
    { type: 'line', shape: { x1: 451, y1: 331, x2: 457, y2: 321 }, style: { stroke: '#222', lineWidth: 1.3 }, z: 10 },
    { type: 'line', shape: { x1: 456, y1: 331, x2: 462, y2: 321 }, style: { stroke: '#222', lineWidth: 1.3 }, z: 10 },
    { type: 'line', shape: { x1: 453, y1: 28, x2: 459, y2: 18 }, style: { stroke: '#222', lineWidth: 1.3 }, z: 10 },
    { type: 'line', shape: { x1: 458, y1: 28, x2: 464, y2: 18 }, style: { stroke: '#222', lineWidth: 1.3 }, z: 10 },
  ];

  return {
    animation: false,
    backgroundColor: '#fff',
    grid: grids,
    xAxis,
    yAxis,
    legend: legends,
    series,
    graphic,
  };
}

export default function App() {
  const ref = useRef<HTMLDivElement>(null);
  useEffect(() => {
    document.body.style.margin = '0';
    if (!ref.current) return;
    const chart = echarts.init(ref.current, null, { renderer: 'svg', width: 1293, height: 789 });
    chart.setOption(buildOption() as any);
    return () => chart.dispose();
  }, []);
  return <div ref={ref} style={{ width: 1293, height: 789 }} />;
}
